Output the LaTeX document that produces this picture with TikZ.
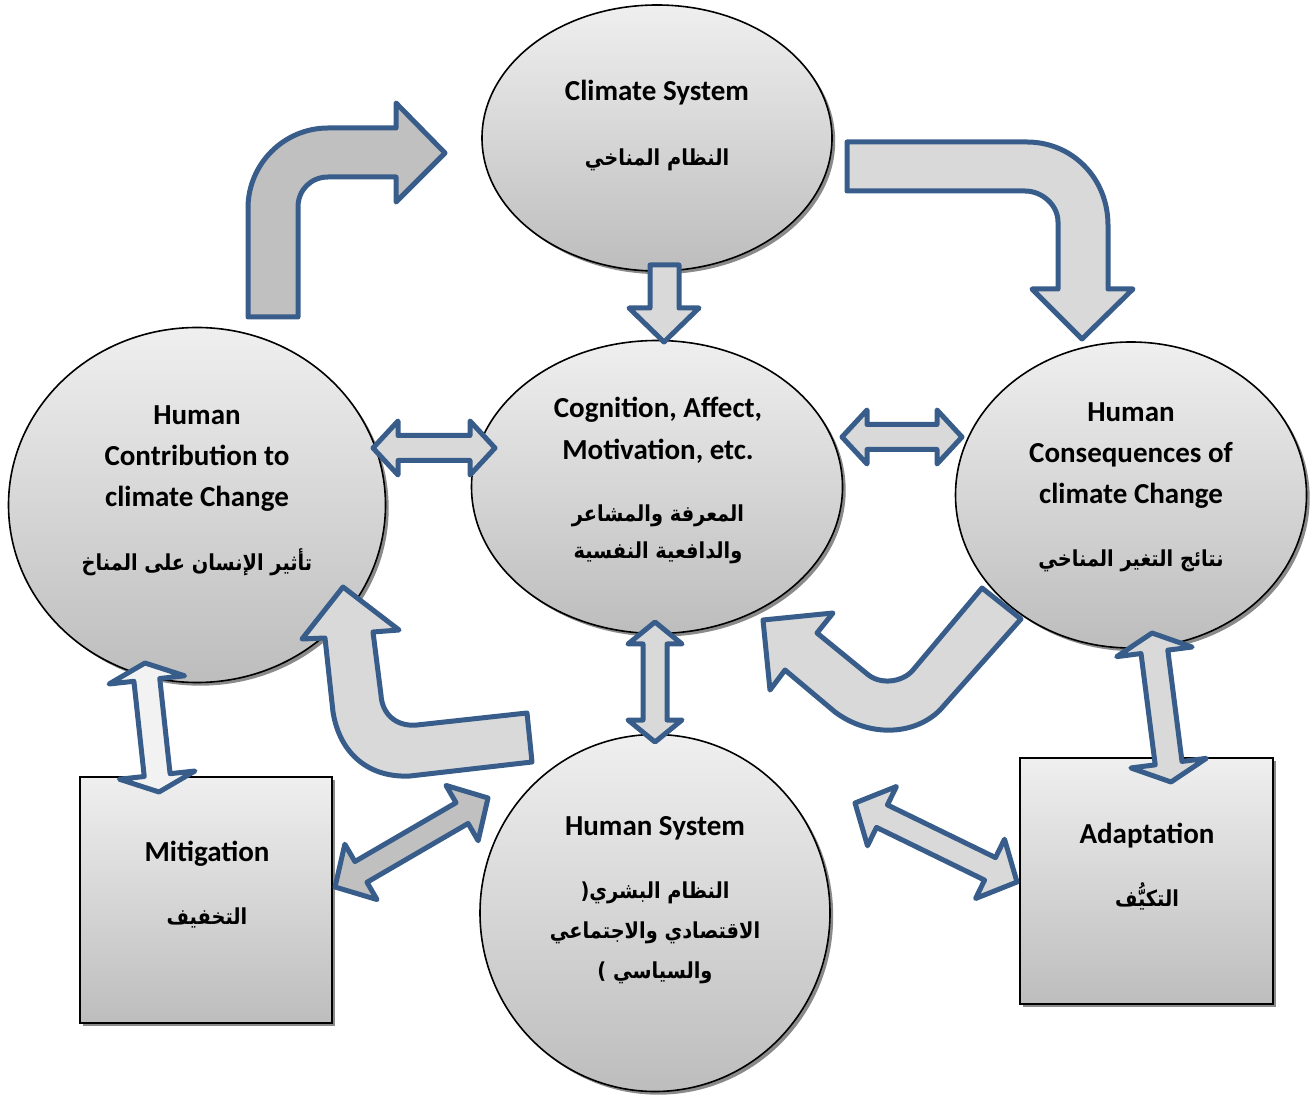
\documentclass[tikz,border=0pt]{standalone}
\usepackage{fontspec}
\setmainfont{Carlito}
\newfontfamily\arabicfont[Script=Arabic, FakeStretch=0.88]{DejaVu Sans}
\TeXXeTstate=1
\usetikzlibrary{calc,shapes.geometric,shadows}
\definecolor{arrowblue}{RGB}{56,93,138}
\definecolor{topg}{HTML}{EFEFEF}
\definecolor{botg}{HTML}{BDBDBD}
\definecolor{shadowg}{HTML}{8A8A8A}
\definecolor{fillC}{HTML}{C0C0C0}
\definecolor{fillD}{HTML}{D9D9D9}
\definecolor{fillF}{HTML}{F2F2F2}
\tikzset{
 bubble/.style={ellipse, draw=black, line width=0.8pt, top color=topg, bottom color=botg,
   drop shadow={shadow xshift=1.6pt, shadow yshift=-1.6pt, fill=shadowg, opacity=1}, inner sep=0pt},
 boxnode/.style={rectangle, draw=black, line width=1pt, top color=topg, bottom color=botg,
   drop shadow={shadow xshift=1.6pt, shadow yshift=-1.6pt, fill=shadowg, opacity=1}, inner sep=0pt},
 blockarrow/.style={draw=arrowblue, line width=2.5pt, line join=round},
 entext/.style={font=\bfseries\fontsize{14.5}{20}\selectfont, inner sep=0pt, anchor=base},
 artext/.style={font=\arabicfont\bfseries\fontsize{11}{16}\selectfont, inner sep=0pt, anchor=base},
}
% double block arrow: #1 A, #2 B, #3 head length, #4 head half-width, #5 shaft half-width, #6 fill
\newcommand\dblarrow[6]{%
 \draw[blockarrow, fill=#6]
  (#1)
  -- ($(#1)!#3!(#2)!#4!90:(#2)$)
  -- ($(#1)!#3!(#2)!#5!90:(#2)$)
  -- ($(#2)!#3!(#1)!#5!270:(#1)$)
  -- ($(#2)!#3!(#1)!#4!270:(#1)$)
  -- (#2)
  -- ($(#2)!#3!(#1)!#4!90:(#1)$)
  -- ($(#2)!#3!(#1)!#5!90:(#1)$)
  -- ($(#1)!#3!(#2)!#5!270:(#2)$)
  -- ($(#1)!#3!(#2)!#4!270:(#2)$)
  -- cycle;}
\begin{document}
\begin{tikzpicture}[x=0.5pt,y=-0.5pt]
\useasboundingbox (0,0) rectangle (1311,1095);

% ---- main shapes ----
\node[bubble, minimum width=175pt, minimum height=133pt] (climate) at (657,138) {};
\node[bubble, minimum width=185.5pt, minimum height=146.5pt] (cognition) at (657,487) {};
\node[bubble, minimum width=188.5pt, minimum height=177.5pt] (contrib) at (197,505) {};
\node[bubble, minimum width=175.5pt, minimum height=153pt] (conseq) at (1131,495) {};
\node[bubble, minimum width=175pt, minimum height=178.5pt] (humansys) at (655,913) {};
\node[boxnode, minimum width=126pt, minimum height=123pt] (mitig) at (206,900) {};
\node[boxnode, minimum width=126.5pt, minimum height=123pt] (adapt) at (1146.5,881) {};

% ---- texts ----
\node[entext] (climE) at (657,101) {Climate System};
\node[artext] (climA) at (657,166) {\beginR النظام المناخي\endR};

\node[entext] (cogE1) at (658,418) {Cognition, Affect,};
\node[entext] (cogE2) at (658,460) {Motivation, etc.};
\node[artext] (cogA1) at (658,522) {\beginR المعرفة والمشاعر\endR};
\node[artext] (cogA2) at (658,559) {\beginR والدافعية النفسية\endR};

\node[entext] (conE1) at (197,425) {Human};
\node[entext] (conE2) at (197,466) {Contribution to};
\node[entext] (conE3) at (197,507) {climate Change};
\node[artext] (conA) at (197,571) {\beginR تأثير الإنسان على المناخ\endR};

\node[entext] (csqE1) at (1131,422) {Human};
\node[entext] (csqE2) at (1131,463) {Consequences of};
\node[entext] (csqE3) at (1131,504) {climate Change};
\node[artext] (csqA) at (1131,567) {\beginR نتائج التغير المناخي\endR};

\node[entext] (hsE) at (655,835) {Human System};
\node[artext] (hsA1) at (655,898) {\beginR النظام البشري(\endR};
\node[artext] (hsA2) at (655,938) {\beginR الاقتصادي والاجتماعي\endR};
\node[artext] (hsA3) at (655,978) {\beginR والسياسي )\endR};

\node[entext] (mitE) at (207,861) {Mitigation};
\node[artext] (mitA) at (207,924) {\beginR التخفيف\endR};

\node[entext] (adaE) at (1147,843) {Adaptation};
\node[artext] (adaA) at (1147,906) {\beginR التكيُّف\endR};

% ---- bent / curved block arrows ----
% Human contribution -> climate system
\draw[blockarrow, fill=fillC]
 (248,317) -- (248,208) .. controls (248,164) and (284,128) .. (328,128)
 -- (396,128) -- (396,103) -- (445,153) -- (396,202) -- (396,177)
 -- (328,177) .. controls (311,177) and (298,190) .. (298,207)
 -- (298,317) -- cycle;
% climate system -> human consequences
\draw[blockarrow, fill=fillD]
 (847,142) -- (1027,142) .. controls (1072,142) and (1108,178) .. (1108,225)
 -- (1108,289) -- (1133,289) -- (1082,339) -- (1032,289) -- (1058,289)
 -- (1058,222) .. controls (1058,205) and (1042,191) .. (1025,191)
 -- (847,191) -- cycle;
% human consequences -> cognition
\draw[blockarrow, fill=fillD]
 (982,588) -- (913,670) .. controls (903,682) and (880,686) .. (866,673)
 -- (817,633) -- (833,613) -- (763,620) -- (770,690) -- (785,670)
 -- (835,712) .. controls (870,738) and (915,735) .. (940,710)
 -- (1021,619) -- cycle;
% human system -> human contribution
\draw[blockarrow, fill=fillD]
 (527,713) -- (417,725) .. controls (395,727) and (382,713) .. (381,695)
 -- (373,632) -- (399,630) -- (343,587) -- (302,639) -- (325,638)
 -- (333,712) .. controls (340,755) and (370,778) .. (410,776)
 -- (532,762) -- cycle;
% climate system -> cognition
\draw[blockarrow, fill=fillD]
 (650,265) -- (679,265) -- (679,308) -- (699,308) -- (664,342)
 -- (629,308) -- (650,308) -- cycle;

% ---- double block arrows ----
\coordinate (h1a) at (373,448); \coordinate (h1b) at (495,448);
\coordinate (h2a) at (842,437); \coordinate (h2b) at (962,437);
\coordinate (v1a) at (655,622); \coordinate (v1b) at (655,742);
\coordinate (m1a) at (145,663); \coordinate (m1b) at (159,792);
\coordinate (a1a) at (1152,633); \coordinate (a1b) at (1171,782);
\coordinate (d1a) at (335,887); \coordinate (d1b) at (488,798);
\coordinate (d2a) at (855,803); \coordinate (d2b) at (1017,882);

\dblarrow{h1a}{h1b}{12.5pt}{13.5pt}{6.25pt}{fillD}
\dblarrow{h2a}{h2b}{12.5pt}{13.5pt}{6.25pt}{fillD}
\dblarrow{v1a}{v1b}{11pt}{13.5pt}{6pt}{fillD}
\dblarrow{m1a}{m1b}{8.5pt}{19pt}{6.5pt}{fillF}
\dblarrow{a1a}{a1b}{9.5pt}{19pt}{6.75pt}{fillD}
\dblarrow{d1a}{d1b}{15pt}{16pt}{6pt}{fillC}
\dblarrow{d2a}{d2b}{15pt}{16.5pt}{6.25pt}{fillD}
\end{tikzpicture}
\end{document}
